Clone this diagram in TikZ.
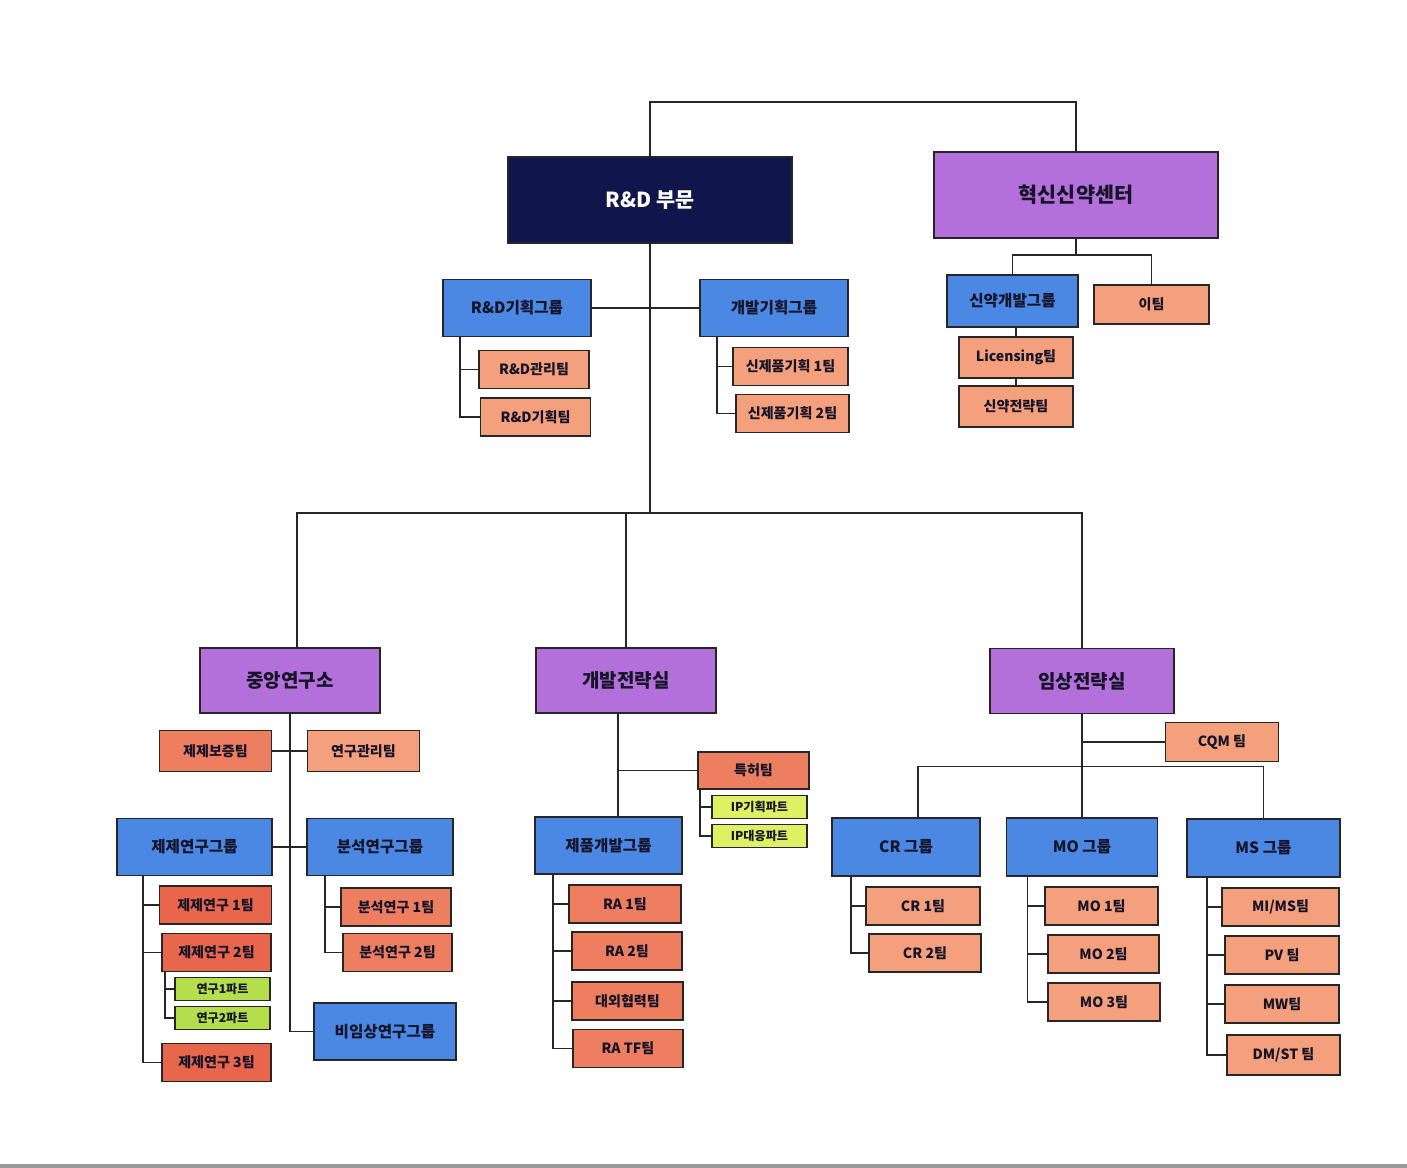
\documentclass[tikz,border=0pt]{standalone}
\usepackage{fontspec}
\newfontfamily\kr{Noto Sans CJK KR}
\usepackage{xcolor}
\usepackage{tikz}
\newcommand\fsz[1]{\fontsize{#1}{#1}\selectfont}
\definecolor{navybox}{RGB}{16,22,76}
\definecolor{purplebox}{RGB}{180,112,218}
\definecolor{bluebox}{RGB}{74,136,228}
\definecolor{salmon}{RGB}{244,160,124}
\definecolor{coral}{RGB}{238,126,96}
\definecolor{redteam}{RGB}{232,102,76}
\definecolor{limepart}{RGB}{180,222,76}
\definecolor{yellowpart}{RGB}{222,240,100}
\definecolor{inktext}{RGB}{22,20,40}

\begin{document}
\begin{tikzpicture}[
		x = 0.02cm, y = -0.02cm, % one unit = one pixel of the chart
		every node/.style = {draw = black!85, line width = 1.1pt, inner sep = 0pt,
			text = inktext, font = \kr\bfseries},
		top/.style = {minimum width = 5.68cm, minimum height = 1.72cm, font = \kr\bfseries\fsz{11.8}},
		office/.style = {fill = purplebox, minimum width = 3.6cm, minimum height = 1.3cm, font = \kr\bfseries\fsz{10.8}},
		grp/.style = {fill = bluebox, minimum width = 2.96cm, minimum height = 1.14cm, font = \kr\bfseries\fsz{8.9}},
		team/.style = {fill = salmon, minimum width = 2.24cm, minimum height = 0.76cm, font = \kr\bfseries\fsz{8}},
		part/.style = {fill = limepart, minimum width = 1.9cm, minimum height = 0.46cm, font = \kr\bfseries\fsz{6.9}},
		link/.style = {line width = 0.8pt, black!85}, % tree lines
	]
	\useasboundingbox (0,0) rectangle (1407,1168);

	% top level
	\node[top, fill = navybox, text = white] (rnd) at (650,200) {R\&D 부문};
	\node[top, fill = purplebox] (inno) at (1076,195) {혁신신약센터};
	\draw[link] (rnd.north) -- ++(0,-54) -| (inno.north);

	% R&D planning
	\node[grp] (rdplan) at (517,308) {R\&D기획그룹};
	\node[grp] (devplan) at (774,308) {개발기획그룹};
	\node[team, minimum width = 2.2cm] (rdmgmt) at (534,369.5) {R\&D관리팀};
	\node[team, minimum width = 2.2cm] (rdteam) at (535.5,417) {R\&D기획팀};
	\node[team, minimum width = 2.3cm] (newprod1) at (790.5,366.5) {신제품기획 1팀};
	\node[team, minimum width = 2.26cm] (newprod2) at (792.5,413.5) {신제품기획 2팀};
	\draw[link] (rdplan.east) -- (devplan.west);
	\draw[link] (rdplan.south west) ++(18,0) |- (rdmgmt.west);
	\draw[link] (rdplan.south west) ++(18,0) |- (rdteam.west);
	\draw[link] (devplan.south west) ++(18,0) |- (newprod1.west);
	\draw[link] (devplan.south west) ++(18,0) |- (newprod2.west);

	% innovation center
	\node[grp, minimum width = 2.62cm, minimum height = 1.04cm] (newdrug) at (1012.5,301) {신약개발그룹};
	\node[team, minimum width = 2.3cm, minimum height = 0.78cm] (iteam) at (1151.5,304.5) {이팀};
	\node[team, minimum width = 2.28cm, minimum height = 0.82cm] (licensing) at (1016,357.5) {Licensing팀};
	\node[team, minimum width = 2.28cm, minimum height = 0.82cm] (ndstrat) at (1016,406.5) {신약전략팀};
	\draw[link] (inno.south) -- ++(0,16) coordinate (ib);
	\draw[link] (newdrug.north) |- (ib) -| (iteam.north);
	\draw[link] (newdrug.south -| licensing.north) -- (licensing.north);
	\draw[link] (licensing.south) -- (ndstrat.north);

	% second level
	\coordinate (bus) at (650,513);
	\node[office] (central) at (290,680.5) {중앙연구소};
	\node[office] (devstrat) at (626,680.5) {개발전략실};
	\node[office, minimum width = 3.68cm] (clinical) at (1082,681) {임상전략실};
	\draw[link] (rnd.south) -- (bus);
	\draw[link] (central.north) ++(7,0) |- (bus) -| (clinical.north);
	\draw[link] (devstrat.north) -- (devstrat.north |- bus);

	% central research
	\node[team, fill = coral, minimum height = 0.82cm] (qa) at (215.5,751) {제제보증팀};
	\node[team, minimum height = 0.82cm] (resmgmt) at (363.5,751) {연구관리팀};
	\node[grp, minimum width = 3.1cm] (frmgrp) at (194.5,847) {제제연구그룹};
	\node[grp, minimum width = 2.92cm] (anagrp) at (380,847) {분석연구그룹};
	\node[grp, minimum width = 2.84cm] (nonclin) at (385,1031.5) {비임상연구그룹};
	\node[team, fill = redteam] (frm1) at (215.5,905) {제제연구 1팀};
	\node[team, fill = redteam, minimum width = 2.18cm] (frm2) at (216.5,952.5) {제제연구 2팀};
	\node[part] (part1) at (222.5,989) {연구1파트};
	\node[part] (part2) at (222.5,1018) {연구2파트};
	\node[team, fill = redteam, minimum width = 2.18cm] (frm3) at (216.5,1062.5) {제제연구 3팀};
	\node[team, fill = coral, minimum width = 2.2cm] (ana1) at (396,907) {분석연구 1팀};
	\node[team, fill = coral, minimum width = 2.18cm] (ana2) at (397.5,952.5) {분석연구 2팀};
	\draw[link] (central.south) |- (nonclin.west);
	\draw[link] (qa.east) -- (resmgmt.west);
	\draw[link] (frmgrp.east) -- (anagrp.west);
	\draw[link] (frmgrp.south west) ++(27,0) |- (frm1.west);
	\draw[link] (frmgrp.south west) ++(27,0) |- (frm2.west);
	\draw[link] (frmgrp.south west) ++(27,0) |- (frm3.west);
	\draw[link] (frm2.south west) ++(4,0) |- (part1.west);
	\draw[link] (frm2.south west) ++(4,0) |- (part2.west);
	\draw[link] (anagrp.south west) ++(19,0) |- (ana1.west);
	\draw[link] (anagrp.south west) ++(19,0) |- (ana2.west);

	% development strategy
	\node[team, fill = coral, minimum width = 2.22cm, minimum height = 0.74cm] (patent) at (753.5,770.5) {특허팀};
	\node[part, fill = yellowpart] (ipplan) at (759.5,807) {IP기획파트};
	\node[part, fill = yellowpart] (ipresp) at (759.5,836) {IP대응파트};
	\node[grp, minimum width = 2.94cm] (prodgrp) at (608.5,845.5) {제품개발그룹};
	\node[team, fill = coral] (ra1) at (625,904) {RA 1팀};
	\node[team, fill = coral, minimum width = 2.2cm] (ra2) at (627,951) {RA 2팀};
	\node[team, fill = coral, minimum width = 2.22cm] (extco) at (627.5,1001) {대외협력팀};
	\node[team, fill = coral, minimum width = 2.2cm] (ratf) at (628,1048.5) {RA TF팀};
	\draw[link] (devstrat.south) ++(-8,0) coordinate (dj) -- (dj |- prodgrp.north);
	\draw[link] (dj |- patent.west) -- (patent.west);
	\draw[link] (patent.south west) ++(3,0) |- (ipplan.west);
	\draw[link] (patent.south west) ++(3,0) |- (ipresp.west);
	\draw[link] (prodgrp.south west) ++(19,0) |- (ra1.west);
	\draw[link] (prodgrp.south west) ++(19,0) |- (ra2.west);
	\draw[link] (prodgrp.south west) ++(19,0) |- (extco.west);
	\draw[link] (prodgrp.south west) ++(19,0) |- (ratf.west);

	% clinical strategy
	\node[team, minimum width = 2.26cm, minimum height = 0.78cm] (cqm) at (1222,742) {CQM 팀};
	\node[grp, minimum height = 1.16cm] (crgrp) at (906,847) {CR 그룹};
	\node[grp, minimum width = 3.02cm, minimum height = 1.16cm] (mogrp) at (1082,847) {MO 그룹};
	\node[grp, minimum width = 3.06cm, minimum height = 1.16cm] (msgrp) at (1263.5,848) {MS 그룹};
	\node[team, minimum width = 2.28cm] (cr1) at (923,906) {CR 1팀};
	\node[team, minimum width = 2.24cm] (cr2) at (925,953) {CR 2팀};
	\node[team, minimum width = 2.26cm] (mo1) at (1101.5,906) {MO 1팀};
	\node[team, minimum width = 2.22cm] (mo2) at (1103.5,954) {MO 2팀};
	\node[team, minimum width = 2.24cm] (mo3) at (1104,1002) {MO 3팀};
	\node[team, minimum width = 2.34cm] (mims) at (1280.5,907) {MI/MS팀};
	\node[team, minimum width = 2.28cm] (pv) at (1282,955) {PV 팀};
	\node[team, minimum width = 2.28cm] (mw) at (1282,1004) {MW팀};
	\node[team, minimum width = 2.26cm, minimum height = 0.8cm] (dmst) at (1283.5,1055) {DM/ST 팀};
	\draw[link] (clinical.south) -- ++(0,52) coordinate (cb);
	\draw[link] (clinical.south |- cqm.west) -- (cqm.west);
	\draw[link] (crgrp.north) ++(12,0) |- (cb) -| (msgrp.north);
	\draw[link] (mogrp.north) -- (mogrp.north |- cb);
	\draw[link] (crgrp.south west) ++(20,0) |- (cr1.west);
	\draw[link] (crgrp.south west) ++(20,0) |- (cr2.west);
	\draw[link] (mogrp.south west) ++(22,0) |- (mo1.west);
	\draw[link] (mogrp.south west) ++(22,0) |- (mo2.west);
	\draw[link] (mogrp.south west) ++(22,0) |- (mo3.west);
	\draw[link] (msgrp.south west) ++(21,0) |- (mims.west);
	\draw[link] (msgrp.south west) ++(21,0) |- (pv.west);
	\draw[link] (msgrp.south west) ++(21,0) |- (mw.west);
	\draw[link] (msgrp.south west) ++(21,0) |- (dmst.west);

	% page edge
	\draw[gray!80, line width = 2pt] (0,1166) -- (1407,1166);
\end{tikzpicture}
\end{document}
